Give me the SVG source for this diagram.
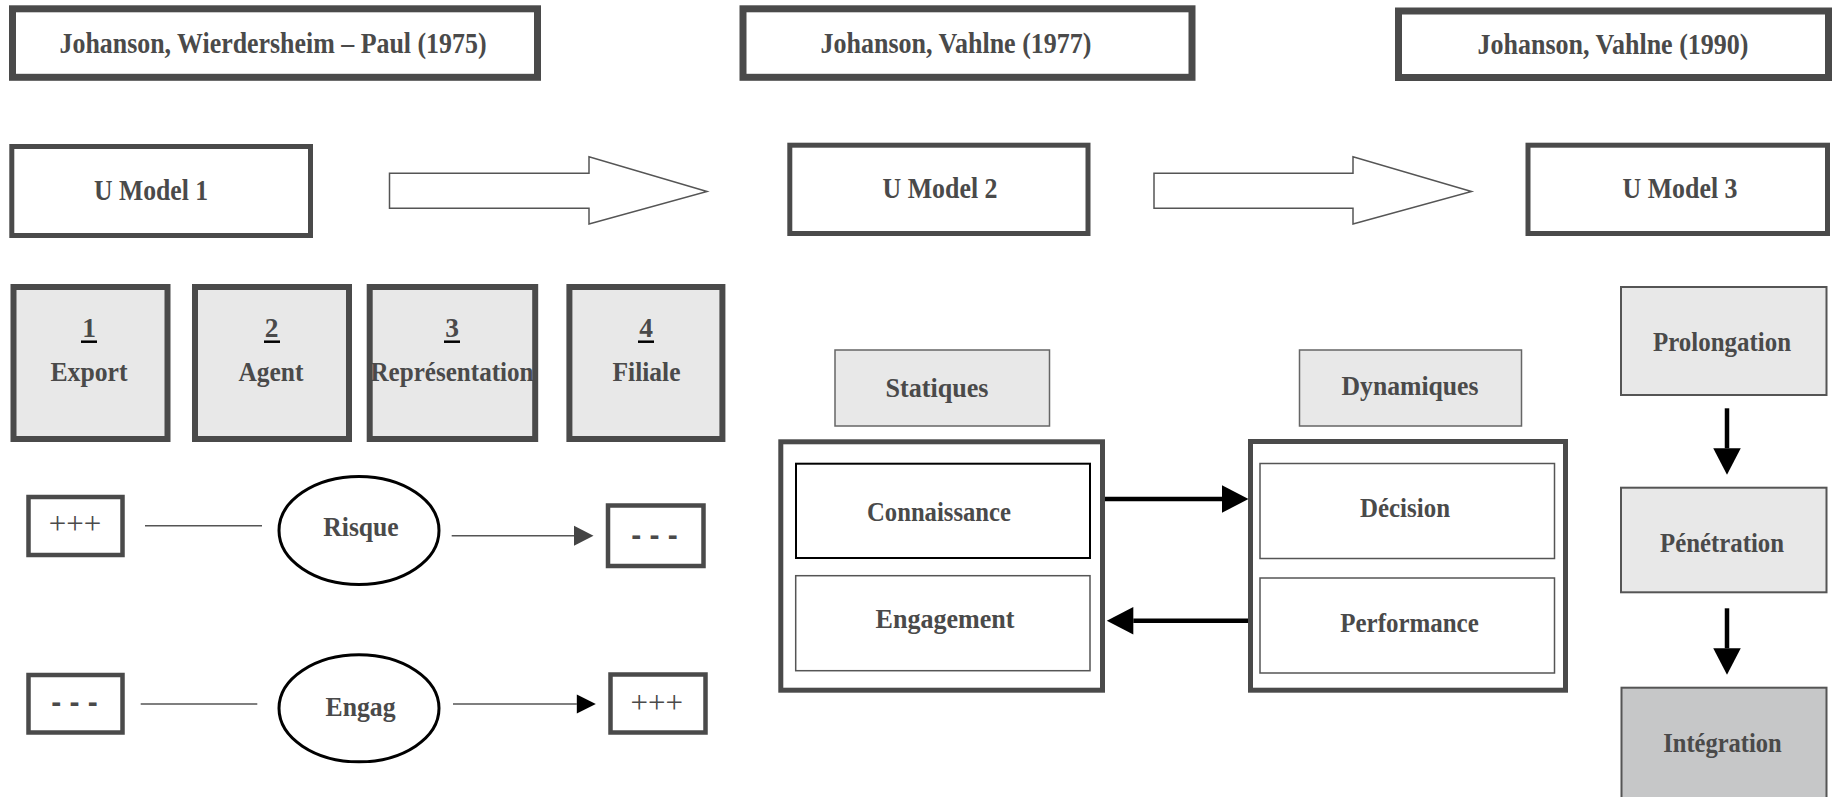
<svg xmlns="http://www.w3.org/2000/svg" width="1835" height="797" viewBox="0 0 1835 797">
<style>
.t{font-family:"Liberation Serif","Times New Roman",serif;font-weight:bold;font-size:27.5px;fill:#4a4a4a;text-anchor:middle}
.tt{font-size:28.5px}
.bt{fill:#fff;stroke:#4a4a4a;stroke-width:7}
.bm{fill:#fff;stroke:#4a4a4a;stroke-width:5}
.bs{fill:#e8e8e8;stroke:#4a4a4a;stroke-width:6}
.bq{fill:#fff;stroke:#4a4a4a;stroke-width:4.5}
.ell{fill:#fff;stroke:#000;stroke-width:3}
.thin{fill:none;stroke:#555;stroke-width:1.5}
.gb{fill:#e8e8e8;stroke:#666;stroke-width:1.5}
.cont{fill:#fff;stroke:#4a4a4a;stroke-width:5}
.inner{fill:#fff;stroke:#555;stroke-width:1.5}
.innerk{fill:#fff;stroke:#000;stroke-width:2}
.col{fill:#e8e8e8;stroke:#555;stroke-width:2}
.col2{fill:#c6c7c8;stroke:#555;stroke-width:2}
.sym{font-family:"Liberation Serif","Times New Roman",serif;font-size:31px;fill:#4a4a4a;text-anchor:middle}
.dash{font-family:"Liberation Sans",Arial,sans-serif;font-weight:bold;font-size:30px;fill:#4a4a4a;text-anchor:middle}
.thick{stroke:#000;stroke-width:4.5;fill:none}
.block{fill:#fff;stroke:#555;stroke-width:1.5}
.ul{stroke:#000;stroke-width:2.5}
</style>
<defs>
<marker id="mkBig" markerUnits="userSpaceOnUse" markerWidth="27" markerHeight="28" refX="0" refY="13.75" orient="auto" overflow="visible"><path d="M0,0 L26.5,13.75 L0,27.5 Z" fill="#000"/></marker>
<marker id="mkGrey" markerUnits="userSpaceOnUse" markerWidth="20" markerHeight="20" refX="0" refY="10" orient="auto" overflow="visible"><path d="M0,0 L19.5,10 L0,20 Z" fill="#444"/></marker>
<marker id="mkBlack" markerUnits="userSpaceOnUse" markerWidth="20" markerHeight="20" refX="0" refY="9.5" orient="auto" overflow="visible"><path d="M0,0 L19,9.5 L0,19 Z" fill="#000"/></marker>
</defs>
<rect width="1835" height="797" fill="#fff"/>

<g id="title1"><rect class="bt" x="12.5" y="8.8" width="525" height="68.5"/><text class="t tt" x="273" y="53" textLength="427" lengthAdjust="spacingAndGlyphs">Johanson, Wierdersheim – Paul (1975)</text></g>
<g id="title2"><rect class="bt" x="743" y="8.8" width="449" height="68.5"/><text class="t tt" x="956" y="53" textLength="271" lengthAdjust="spacingAndGlyphs">Johanson, Vahlne (1977)</text></g>
<g id="title3"><rect class="bt" x="1398.5" y="11" width="430" height="66.5"/><text class="t tt" x="1613" y="54" textLength="271" lengthAdjust="spacingAndGlyphs">Johanson, Vahlne (1990)</text></g>

<g id="umodel1"><rect class="bm" x="11.8" y="146.5" width="298.7" height="89"/><text class="t tt" x="151" y="199.5" textLength="114" lengthAdjust="spacingAndGlyphs">U Model 1</text></g>
<g id="umodel2"><rect class="bm" x="789.8" y="145.2" width="298.2" height="88.3"/><text class="t tt" x="940" y="198" textLength="115" lengthAdjust="spacingAndGlyphs">U Model 2</text></g>
<g id="umodel3"><rect class="bm" x="1528" y="145.2" width="299.5" height="88.3"/><text class="t tt" x="1680" y="198" textLength="115" lengthAdjust="spacingAndGlyphs">U Model 3</text></g>

<g id="stage1"><rect class="bs" x="13.5" y="287" width="154" height="152"/><text class="t" x="89" y="337">1</text><line class="ul" x1="81" y1="341.7" x2="97" y2="341.7"/><text class="t" x="89" y="380.5" textLength="77" lengthAdjust="spacingAndGlyphs">Export</text></g>
<g id="stage2"><rect class="bs" x="195" y="287" width="154" height="152"/><text class="t" x="271.5" y="337">2</text><line class="ul" x1="264" y1="341.7" x2="280" y2="341.7"/><text class="t" x="271" y="380.5" textLength="65" lengthAdjust="spacingAndGlyphs">Agent</text></g>
<g id="stage3"><rect class="bs" x="369.7" y="287" width="165.5" height="152"/><text class="t" x="452" y="337">3</text><line class="ul" x1="444" y1="341.7" x2="460" y2="341.7"/><text class="t" x="452" y="380.5" textLength="163" lengthAdjust="spacingAndGlyphs">Représentation</text></g>
<g id="stage4"><rect class="bs" x="569.4" y="287" width="153" height="152"/><text class="t" x="646" y="337">4</text><line class="ul" x1="638" y1="341.7" x2="654" y2="341.7"/><text class="t" x="646.5" y="380.5" textLength="68" lengthAdjust="spacingAndGlyphs">Filiale</text></g>

<g id="plus1"><rect class="bq" x="28.5" y="497" width="94" height="58"/><text class="sym" x="75" y="533.6">+++</text></g>
<g id="risque"><ellipse class="ell" cx="359" cy="530.5" rx="80" ry="54"/><text class="t" x="361" y="535.7" textLength="75.5" lengthAdjust="spacingAndGlyphs">Risque</text></g>
<g id="minus1"><rect class="bq" x="608" y="505.5" width="95.5" height="60.5"/><text class="dash" x="654.5" y="545">- - -</text></g>
<g id="minus2"><rect class="bq" x="28.5" y="675" width="94" height="57.5"/><text class="dash" x="74.5" y="712.3">- - -</text></g>
<g id="engag"><ellipse class="ell" cx="359" cy="708.3" rx="80" ry="53.5"/><text class="t" x="360.5" y="716" textLength="70" lengthAdjust="spacingAndGlyphs">Engag</text></g>
<g id="plus2"><rect class="bq" x="610.5" y="674.5" width="95" height="58"/><text class="sym" x="656.8" y="713">+++</text></g>

<g id="statiques"><rect class="gb" x="835" y="350" width="214.5" height="76"/><text class="t" x="937" y="396.5" textLength="103" lengthAdjust="spacingAndGlyphs">Statiques</text></g>
<g id="dynamiques"><rect class="gb" x="1299.5" y="350" width="222" height="76"/><text class="t" x="1410" y="395" textLength="137" lengthAdjust="spacingAndGlyphs">Dynamiques</text></g>
<g id="static-box"><rect class="cont" x="780.8" y="441.8" width="321.7" height="248.4"/>
<g id="connaissance"><rect class="innerk" x="796" y="463.7" width="294" height="94.3"/><text class="t" x="939" y="520.7" textLength="144" lengthAdjust="spacingAndGlyphs">Connaissance</text></g>
<g id="engagement"><rect class="inner" x="795.7" y="575.7" width="294.3" height="95"/><text class="t" x="945" y="628.3" textLength="139" lengthAdjust="spacingAndGlyphs">Engagement</text></g>
</g>
<g id="dynamic-box"><rect class="cont" x="1250.5" y="441.5" width="315" height="248.7"/>
<g id="decision"><rect class="inner" x="1260" y="463.5" width="294.5" height="95"/><text class="t" x="1405" y="517" textLength="90" lengthAdjust="spacingAndGlyphs">Décision</text></g>
<g id="performance"><rect class="inner" x="1260" y="578" width="294.5" height="95"/><text class="t" x="1409.5" y="631.7" textLength="138.5" lengthAdjust="spacingAndGlyphs">Performance</text></g>
</g>

<g id="prolongation"><rect class="col" x="1621" y="287" width="205.5" height="108"/><text class="t" x="1722" y="351" textLength="138" lengthAdjust="spacingAndGlyphs">Prolongation</text></g>
<g id="penetration"><rect class="col" x="1621" y="487.7" width="205.5" height="104.6"/><text class="t" x="1722" y="551.5" textLength="124" lengthAdjust="spacingAndGlyphs">Pénétration</text></g>
<g id="integration"><rect class="col2" x="1621.5" y="687.7" width="205" height="120"/><text class="t" x="1722.5" y="751.5" textLength="118.5" lengthAdjust="spacingAndGlyphs">Intégration</text></g>

<g id="connectors">
<polygon class="block" points="389.5,173.3 589,173.3 589,156.7 707,191.5 589,224 589,208.3 389.5,208.3"/>
<polygon class="block" points="1154,173.3 1353,173.3 1353,156.7 1471.5,191.5 1353,224 1353,208.3 1154,208.3"/>
<line class="thin" x1="145" y1="525.7" x2="262" y2="525.7"/>
<line class="thin" x1="451.7" y1="535.7" x2="574" y2="535.7" marker-end="url(#mkGrey)"/>
<line class="thin" x1="140.7" y1="704" x2="257.3" y2="704"/>
<line class="thin" x1="453" y1="704" x2="576.8" y2="704" marker-end="url(#mkBlack)"/>
<line class="thick" x1="1105" y1="499" x2="1222" y2="499" marker-end="url(#mkBig)"/>
<line class="thick" x1="1248" y1="620.7" x2="1133.3" y2="620.7" marker-end="url(#mkBig)"/>
<line class="thick" x1="1727" y1="408.3" x2="1727" y2="448.3" marker-end="url(#mkBig)"/>
<line class="thick" x1="1727" y1="608.3" x2="1727" y2="648.3" marker-end="url(#mkBig)"/>
</g>
</svg>
